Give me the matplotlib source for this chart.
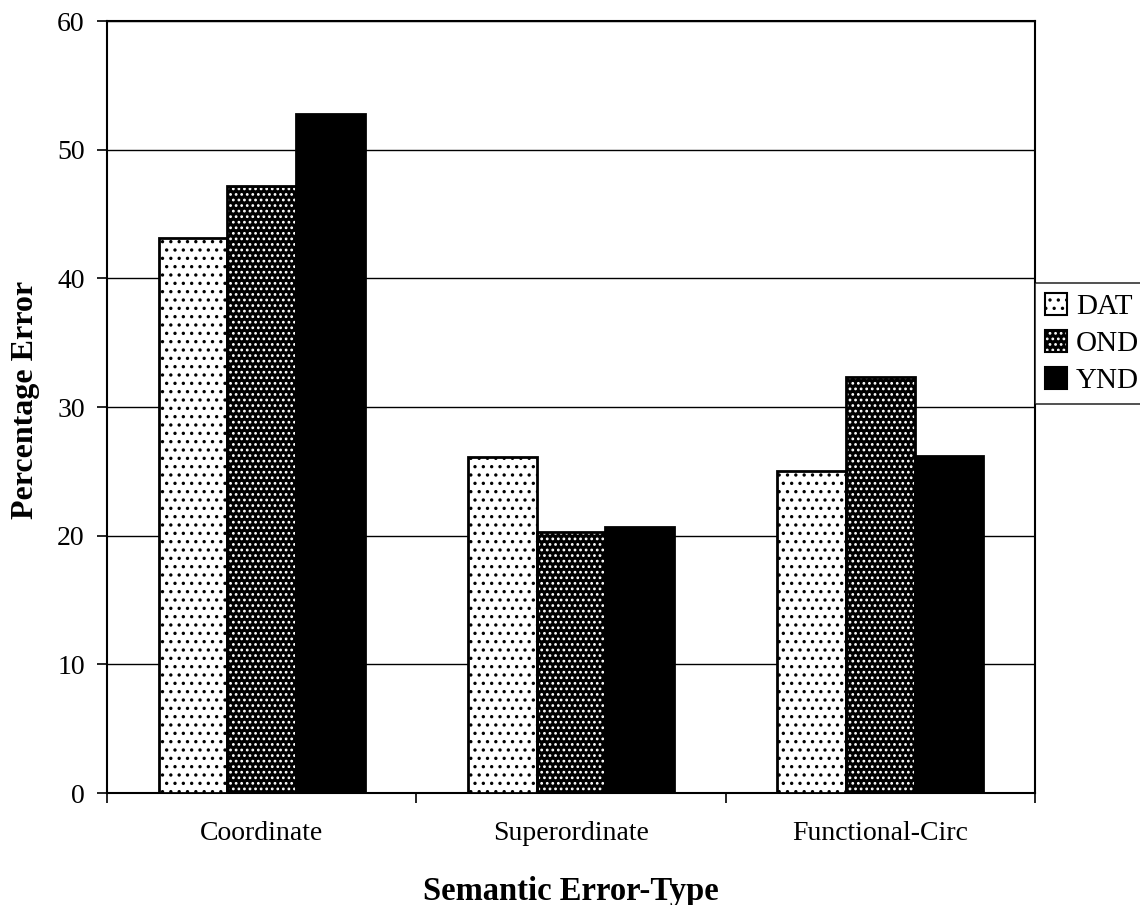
import numpy as np
import matplotlib
matplotlib.use("Agg")
from matplotlib import pyplot as plt
from matplotlib.patches import Patch
from matplotlib.legend_handler import HandlerTuple

categories = ["Coordinate", "Superordinate", "Functional-Circ"]
groups = ["DAT", "OND", "YND"]
dat = [43.1, 26.1, 25.0]
ond = [47.2, 20.3, 32.3]
ynd = [52.8, 20.7, 26.2]

plt.rcParams['font.family'] = ['Liberation Serif', 'DejaVu Serif']
plt.rcParams['hatch.linewidth'] = 1.2

fig = plt.figure(figsize=(11.4, 9.05), dpi=100)
ax = fig.add_axes([107/1140, 1 - 793/905, 928/1140, 772/905])

x = np.arange(len(categories))
w = 0.222

# fill styles: (face, hatch colour, hatch)
styles = [('white', 'black', '..'), ('black', 'white', '...'), ('black', 'black', None)]

for vals, off, (fc, hc, h) in zip([dat, ond, ynd], [-w, 0, w], styles):
    ax.bar(x + off, vals, w, facecolor=fc, edgecolor=hc, hatch=h, linewidth=0, zorder=3)
    # outline on top
    ax.bar(x + off, vals, w, fill=False, edgecolor='black', linewidth=2, zorder=4)

ax.set_xlim(-0.5, 2.5)
ax.set_ylim(0, 60)
ax.set_yticks(np.arange(0, 61, 10))
ax.yaxis.grid(True, color='black', linewidth=1)
ax.set_axisbelow(True)

ax.set_xticks(np.arange(-0.5, 2.6, 1.0))
ax.set_xticklabels([])
ax.set_xticks(x, minor=True)
ax.set_xticklabels(categories, minor=True, fontsize=20)
ax.tick_params(axis='x', which='minor', length=0, pad=20)
ax.tick_params(axis='x', which='major', length=7, width=1.2, direction='out')
ax.tick_params(axis='y', labelsize=20, length=7, width=1.2, pad=9)

for s in ax.spines.values():
    s.set_linewidth(1.5)

ax.set_xlabel("Semantic Error-Type", fontsize=23.5, fontweight='bold')
ax.xaxis.set_label_coords(0.5, -0.1075)
ax.set_ylabel("Percentage Error", fontsize=23, fontweight='bold')
ax.yaxis.set_label_coords(-0.072, 0.509)

handles = []
for fc, hc, h in styles:
    handles.append((Patch(facecolor=fc, edgecolor=hc, hatch=h, linewidth=0),
                    Patch(fill=False, edgecolor='black', linewidth=1.5)))
leg = ax.legend(handles, groups, handler_map={tuple: HandlerTuple(ndivide=1)},
                loc='upper left', bbox_to_anchor=(1.0, (793 - 283) / 772),
                fontsize=21, frameon=True, fancybox=False, edgecolor='black',
                borderaxespad=0, handlelength=0.75, handleheight=0.75, handletextpad=0.3,
                labelspacing=0.35, borderpad=0.35)
leg.get_frame().set_linewidth(1.2)

fig.savefig("out.png", dpi=100)
